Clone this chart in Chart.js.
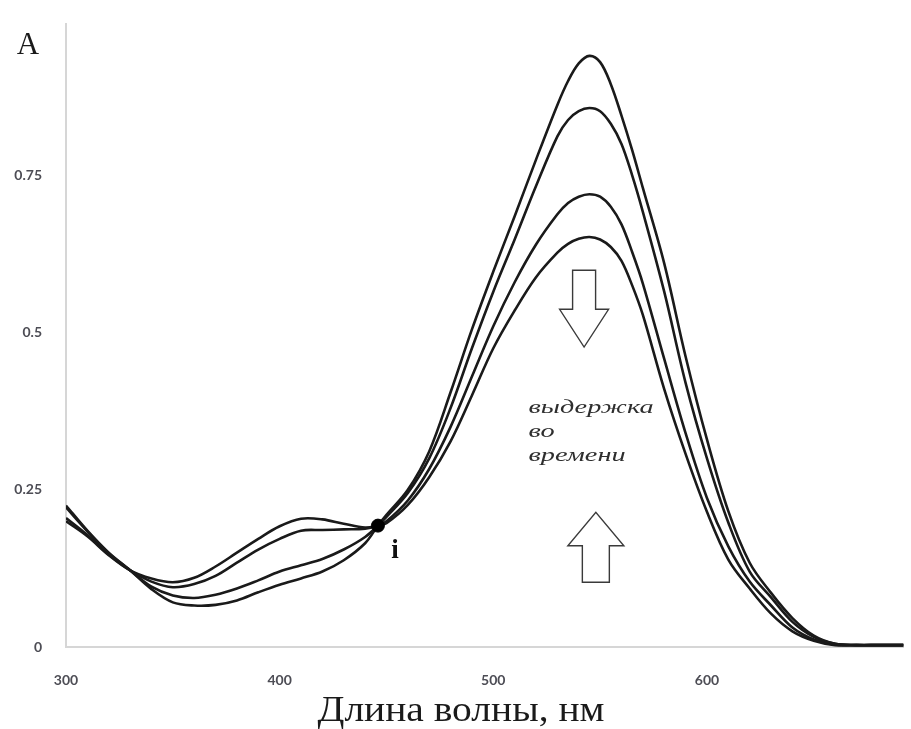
<!DOCTYPE html>
<html>
<head>
<meta charset="utf-8">
<script src="https://cdn.jsdelivr.net/npm/chart.js@4.4.1/dist/chart.umd.min.js"></script>
<style>
  html, body { margin: 0; padding: 0; background: #fff; }
  #wrap { width: 911px; height: 729px; position: relative; }
</style>
</head>
<body>
<div id="wrap"><canvas id="spectra"></canvas></div>
<script>
// wavelengths, nm
const wavelengths = [300, 310, 320, 330, 340, 350, 360, 370, 380, 390, 400, 410, 420, 430, 440, 446,
  450, 460, 470, 480, 490, 500, 510, 520, 530, 535, 540, 545, 550, 555, 560, 565, 570, 580, 590, 600, 610, 620,
  630, 640, 650, 660, 670, 680, 692];

// absorbance, one array per spectrum (highest peak first)
const spectrum1 = [0.225, 0.185, 0.150, 0.122, 0.092, 0.071, 0.066, 0.067, 0.074, 0.087, 0.099, 0.109, 0.120, 0.138, 0.165, 0.193,
  0.210, 0.250, 0.311, 0.405, 0.505, 0.597, 0.685, 0.775, 0.862, 0.900, 0.928, 0.940, 0.930, 0.895, 0.845, 0.790, 0.730, 0.610, 0.462, 0.330, 0.216, 0.134,
  0.086, 0.046, 0.018, 0.005, 0.003, 0.003, 0.003];
const spectrum2 = [0.222, 0.184, 0.149, 0.122, 0.096, 0.082, 0.078, 0.083, 0.093, 0.106, 0.120, 0.130, 0.140, 0.155, 0.175, 0.193,
  0.207, 0.245, 0.300, 0.380, 0.475, 0.565, 0.648, 0.733, 0.812, 0.838, 0.852, 0.857, 0.852, 0.832, 0.800, 0.750, 0.692, 0.565, 0.420, 0.300, 0.198, 0.120,
  0.079, 0.040, 0.016, 0.005, 0.003, 0.003, 0.003];
const spectrum3 = [0.205, 0.178, 0.147, 0.122, 0.104, 0.095, 0.100, 0.113, 0.134, 0.155, 0.172, 0.185, 0.186, 0.187, 0.188, 0.193,
  0.200, 0.233, 0.283, 0.350, 0.430, 0.510, 0.580, 0.640, 0.688, 0.706, 0.716, 0.720, 0.716, 0.700, 0.672, 0.628, 0.578, 0.458, 0.340, 0.237, 0.160, 0.104,
  0.066, 0.031, 0.012, 0.004, 0.003, 0.003, 0.003];
const spectrum4 = [0.200, 0.176, 0.146, 0.122, 0.109, 0.103, 0.110, 0.128, 0.150, 0.172, 0.192, 0.204, 0.203, 0.196, 0.190, 0.193,
  0.197, 0.226, 0.270, 0.327, 0.400, 0.475, 0.535, 0.588, 0.627, 0.641, 0.649, 0.652, 0.648, 0.636, 0.614, 0.575, 0.528, 0.410, 0.307, 0.215, 0.139, 0.093,
  0.053, 0.025, 0.010, 0.003, 0.003, 0.003, 0.003];

// isosbestic point
const isoWavelength = [446];
const isoAbsorbance = [0.193];

// axis ticks
const xTicks = [300, 400, 500, 600];
const xTickLabels = ['300', '400', '500', '600'];
const yTicks = [0, 0.25, 0.5, 0.75];
const yTickLabels = ['0', '0.25', '0.5', '0.75'];

const yAxisTitle = 'A';
const xAxisTitle = 'Длина волны, нм';
const noteLines = ['выдержка', 'во', 'времени'];
const isoLabel = 'i';

// annotation anchors in data units
const notePos = { x: 516.5, y: [0.372, 0.334, 0.295] };
const isoLabelPos = { x: 454, y: 0.152 };
const downArrow = { x: 542.5, base: 0.599, head: 0.537, tip: 0.477 };
const upArrow = { x: 548, base: 0.103, head: 0.161, tip: 0.214 };

function toPoints(values) {
  return wavelengths.map((w, i) => ({ x: w, y: values[i] }));
}

function blockArrow(ctx, cx, yBase, yHead, yTip, shaftHalf, headHalf) {
  ctx.beginPath();
  ctx.moveTo(cx - shaftHalf, yBase);
  ctx.lineTo(cx - shaftHalf, yHead);
  ctx.lineTo(cx - headHalf, yHead);
  ctx.lineTo(cx, yTip);
  ctx.lineTo(cx + headHalf, yHead);
  ctx.lineTo(cx + shaftHalf, yHead);
  ctx.lineTo(cx + shaftHalf, yBase);
  ctx.closePath();
  ctx.fillStyle = '#fff';
  ctx.fill();
  ctx.strokeStyle = '#3a3a3a';
  ctx.lineWidth = 1.4;
  ctx.stroke();
}

const overlay = {
  id: 'overlay',
  afterDatasetsDraw(chart) {
    const { ctx, chartArea, scales: { x, y } } = chart;
    ctx.save();

    // arrows
    blockArrow(ctx, x.getPixelForValue(downArrow.x), y.getPixelForValue(downArrow.base),
      y.getPixelForValue(downArrow.head), y.getPixelForValue(downArrow.tip), 11.5, 24.5);
    blockArrow(ctx, x.getPixelForValue(upArrow.x), y.getPixelForValue(upArrow.base),
      y.getPixelForValue(upArrow.head), y.getPixelForValue(upArrow.tip), 13.5, 28);

    // note text, stretched to the width seen in the picture
    ctx.fillStyle = '#2e2e2e';
    ctx.font = 'italic 19px "Liberation Serif"';
    ctx.textAlign = 'left';
    ctx.textBaseline = 'alphabetic';
    const sx = 125 / ctx.measureText(noteLines[0]).width;
    noteLines.forEach((t, i) => {
      ctx.save();
      ctx.translate(x.getPixelForValue(notePos.x), y.getPixelForValue(notePos.y[i]));
      ctx.scale(sx, 1);
      ctx.fillText(t, 0, 0);
      ctx.restore();
    });

    // isosbestic label
    ctx.fillStyle = '#111';
    ctx.font = 'bold 27px "Liberation Serif"';
    ctx.textAlign = 'center';
    ctx.textBaseline = 'middle';
    ctx.fillText(isoLabel, x.getPixelForValue(isoLabelPos.x), y.getPixelForValue(isoLabelPos.y));

    // y title
    ctx.font = '31px "Liberation Serif"';
    ctx.fillStyle = '#1a1a1a';
    ctx.fillText(yAxisTitle, chartArea.left - 38, chartArea.top + 21);

    // x title, condensed like the original lettering
    ctx.font = '36px "Liberation Serif"';
    ctx.textBaseline = 'middle';
    const tw = ctx.measureText(xAxisTitle).width;
    ctx.save();
    ctx.translate(461, 712);
    ctx.scale(287 / tw, 1);
    ctx.fillText(xAxisTitle, 0, 0);
    ctx.restore();

    ctx.restore();
  }
};

const lineStyle = {
  showLine: true,
  pointRadius: 0,
  borderColor: '#1a1a1a',
  borderWidth: 2.6,
  tension: 0.35,
  fill: false
};

const tickFont = { family: 'Lato', size: 14, weight: 'bold' };

new Chart(document.getElementById('spectra'), {
  type: 'scatter',
  data: {
    datasets: [
      {
        data: isoWavelength.map((w, i) => ({ x: w, y: isoAbsorbance[i] })),
        pointRadius: 6.5,
        pointBackgroundColor: '#000',
        pointBorderColor: '#000',
        showLine: false
      },
      Object.assign({ data: toPoints(spectrum1) }, lineStyle),
      Object.assign({ data: toPoints(spectrum2) }, lineStyle),
      Object.assign({ data: toPoints(spectrum3) }, lineStyle),
      Object.assign({ data: toPoints(spectrum4) }, lineStyle)
    ]
  },
  options: {
    responsive: true,
    maintainAspectRatio: false,
    animation: false,
    layout: { padding: { top: 20, right: 0, left: 0, bottom: 0 } },
    plugins: {
      legend: { display: false },
      tooltip: { enabled: false }
    },
    scales: {
      x: {
        type: 'linear',
        min: 300,
        max: 692,
        grid: { display: false },
        border: { display: true, color: '#d6d6d6', width: 2 },
        afterBuildTicks: (scale) => { scale.ticks = xTicks.map(v => ({ value: v })); },
        afterFit: (scale) => { scale.height = 82; },
        ticks: {
          padding: 17,
          maxRotation: 0,
          autoSkip: false,
          color: '#4d4d55',
          font: tickFont,
          callback: (v) => xTickLabels[xTicks.indexOf(v)]
        }
      },
      y: {
        min: 0,
        max: 0.99,
        grid: { display: false },
        border: { display: true, color: '#d6d6d6', width: 2 },
        afterBuildTicks: (scale) => { scale.ticks = yTicks.map(v => ({ value: v })); },
        afterFit: (scale) => { scale.width = 66; },
        ticks: {
          padding: 16,
          autoSkip: false,
          color: '#4d4d55',
          font: tickFont,
          callback: (v) => yTickLabels[yTicks.indexOf(v)]
        }
      }
    }
  },
  plugins: [overlay]
});
</script>
</body>
</html>
